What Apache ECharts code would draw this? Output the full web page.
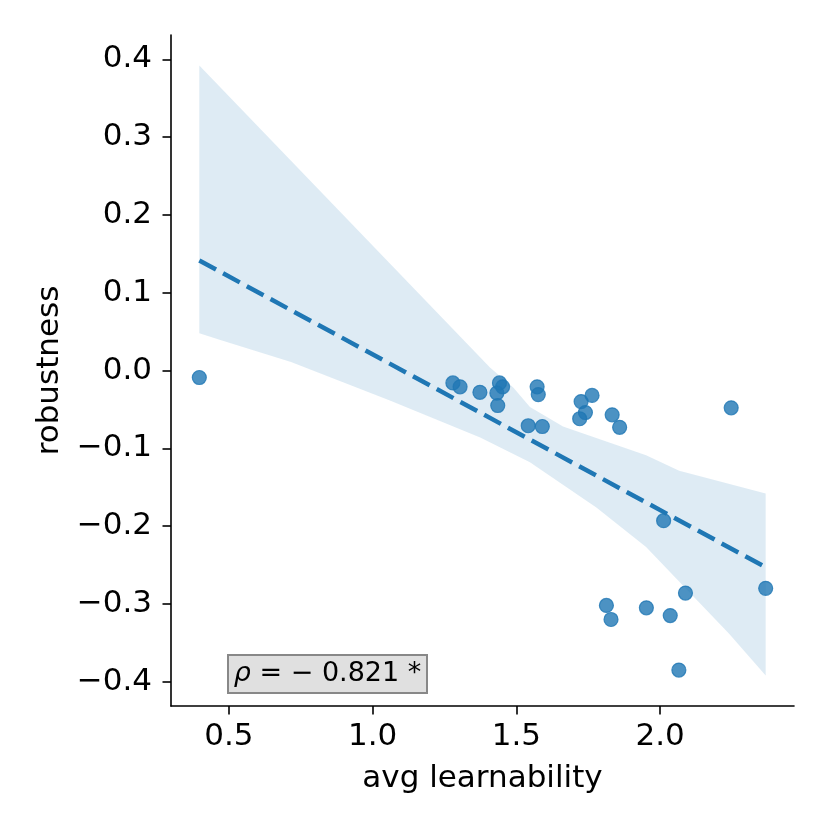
<!DOCTYPE html>
<html>
<head>
<meta charset="utf-8">
<script src="https://cdn.jsdelivr.net/npm/echarts@6/dist/echarts.min.js"></script>
<style>
  html, body { margin: 0; padding: 0; background: #fff; }
  #chart { width: 830px; height: 830px; }
</style>
</head>
<body>
<div id="chart"></div>
<script>
// scatter points
var learnability = [0.397, 1.279, 1.304, 1.373, 1.441, 1.452, 1.432, 1.435, 1.572, 1.576, 1.541, 1.590,
  1.725, 1.763, 1.740, 1.720, 1.833, 1.859, 2.247, 2.012, 2.367, 2.088, 1.813, 1.829, 1.952, 2.035, 2.065];
var robustness = [-0.009, -0.016, -0.021, -0.028, -0.016, -0.021, -0.029, -0.045, -0.021, -0.031, -0.071, -0.072,
  -0.040, -0.032, -0.054, -0.062, -0.057, -0.073, -0.048, -0.193, -0.280, -0.286, -0.302, -0.320, -0.305, -0.315, -0.385];

// confidence band edges (bootstrap band)
var bandUpperX = [0.397, 1.408, 1.489, 1.547, 1.662, 1.951, 2.066, 2.367];
var bandUpperY = [0.392, 0.004, -0.022, -0.047, -0.072, -0.109, -0.129, -0.158];
var bandLowerX = [0.397, 0.473, 0.716, 1.062, 1.374, 1.547, 1.778, 1.951, 2.239, 2.367];
var bandLowerY = [0.048, 0.039, 0.011, -0.039, -0.086, -0.118, -0.176, -0.227, -0.338, -0.392];

var xTicks = [0.5, 1.0, 1.5, 2.0];
var yTicks = [-0.4, -0.3, -0.2, -0.1, 0.0, 0.1, 0.2, 0.3, 0.4];
var rhoText = '\u2212 0.821';

// least squares fit
var n = learnability.length;
var mx = 0, my = 0;
for (var i = 0; i < n; i++) { mx += learnability[i]; my += robustness[i]; }
mx /= n; my /= n;
var sxy = 0, sxx = 0;
for (var i = 0; i < n; i++) {
  sxy += (learnability[i] - mx) * (robustness[i] - my);
  sxx += (learnability[i] - mx) * (learnability[i] - mx);
}
var slope = sxy / sxx;
var icpt = my - slope * mx;
var xLo = Math.min.apply(null, learnability);
var xHi = Math.max.apply(null, learnability);
var fitLine = [[xLo, icpt + slope * xLo], [xHi, icpt + slope * xHi]];

// matplotlib style 5% margins
var xPad = (xHi - xLo) * 0.05;
var allY = robustness.concat(bandUpperY, bandLowerY);
var yLo = Math.min.apply(null, allY), yHi = Math.max.apply(null, allY);
var yPad = (yHi - yLo) * 0.05;

var points = [];
for (var i = 0; i < n; i++) points.push([learnability[i], robustness[i]]);

function fmt(v) {
  return v.toFixed(1).replace('-', '\u2212');
}

var FONT = 'DejaVu Sans';
var chart = echarts.init(document.getElementById('chart'));
var option = {
  animation: false,
  grid: { left: 171, right: 36, top: 35, bottom: 124 },
  xAxis: {
    type: 'value',
    min: xLo - xPad,
    max: xHi + xPad,
    name: 'avg learnability',
    nameLocation: 'middle',
    nameGap: 57,
    nameTextStyle: { fontFamily: FONT, fontSize: 31, color: '#000' },
    splitLine: { show: false },
    axisLine: { show: true, onZero: false, lineStyle: { color: '#000', width: 1.6 } },
    axisTick: { show: true, length: 8.5, lineStyle: { color: '#000', width: 1.6 }, customValues: xTicks },
    axisLabel: { fontFamily: FONT, fontSize: 31, color: '#000', margin: 15, customValues: xTicks, formatter: fmt }
  },
  yAxis: {
    type: 'value',
    min: yLo - yPad,
    max: yHi + yPad,
    name: 'robustness',
    nameLocation: 'middle',
    nameGap: 104,
    nameTextStyle: { fontFamily: FONT, fontSize: 31, color: '#000' },
    splitLine: { show: false },
    axisLine: { show: true, onZero: false, lineStyle: { color: '#000', width: 1.6 } },
    axisTick: { show: true, length: 8.5, lineStyle: { color: '#000', width: 1.6 }, customValues: yTicks },
    axisLabel: { fontFamily: FONT, fontSize: 31, color: '#000', margin: 19, customValues: yTicks, formatter: fmt }
  },
  series: [
    {
      type: 'custom',
      z: 1,
      silent: true,
      data: [[0, 0]],
      renderItem: function (params, api) {
        var pts = [];
        for (var i = 0; i < bandUpperX.length; i++) pts.push(api.coord([bandUpperX[i], bandUpperY[i]]));
        for (var j = bandLowerX.length - 1; j >= 0; j--) pts.push(api.coord([bandLowerX[j], bandLowerY[j]]));
        return {
          type: 'polygon',
          shape: { points: pts },
          style: { fill: 'rgba(31,119,180,0.15)', stroke: null }
        };
      }
    },
    {
      type: 'scatter',
      z: 2,
      data: points,
      symbolSize: 14,
      itemStyle: { color: 'rgba(31,119,180,0.8)', borderColor: 'rgba(31,119,180,0.8)', borderWidth: 1.2, opacity: 1 }
    },
    {
      type: 'line',
      z: 3,
      data: fitLine,
      symbol: 'none',
      lineStyle: { color: '#1f77b4', width: 4.5, type: [19, 8] }
    }
  ],
  graphic: [
    {
      type: 'group',
      left: 227,
      top: 654,
      children: [
        {
          type: 'rect',
          shape: { x: 0, y: 0, width: 199, height: 38 },
          style: { fill: '#e0e0e0', stroke: '#888', lineWidth: 2 }
        },
        {
          type: 'text',
          x: 99.5,
          y: 19,
          style: {
            text: '{i|\u03c1} = ' + rhoText + ' *',
            fontFamily: FONT,
            fontSize: 27,
            fill: '#000',
            align: 'center',
            verticalAlign: 'middle',
            rich: { i: { fontStyle: 'italic', fontFamily: FONT, fontSize: 27 } }
          }
        }
      ]
    }
  ]
};
chart.setOption(option);
</script>
</body>
</html>
